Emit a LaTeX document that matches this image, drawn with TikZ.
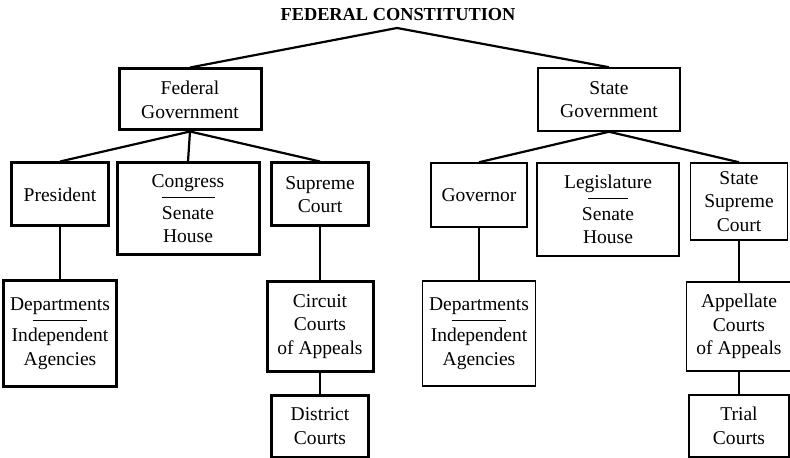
\documentclass[tikz,border=0pt]{standalone}
\usepackage{fontspec}
\setmainfont{Liberation Serif}

% thin rule between two parts of a box
\newcommand{\divline}[1]{\\[-13.5bp]\rule{#1}{0.6bp}\\[-2.5bp]}

\begin{document}
\begin{tikzpicture}
  [x=1bp,y=-1bp,
   box/.style={draw,line width=1.5bp,inner sep=0pt,align=center,
     font=\fontsize{19.6}{23.8}\selectfont},
   fedbox/.style={box,line width=3bp},
   link/.style={line width=2.2bp}]
  \useasboundingbox (0,0) rectangle (790,458);

  \node[font=\bfseries\fontsize{18.4}{20}\selectfont,anchor=base,inner sep=0pt] (title) at (398,20.5) {FEDERAL CONSTITUTION};
  \coordinate (top) at (397,28);

  % federal side
  \node[fedbox,minimum width=142bp,minimum height=61bp] (fed) at (190,99.5) {Federal\\Government};
  \node[fedbox,minimum width=96bp,minimum height=63bp] (pres) at (60,194.5) {President};
  \node[fedbox,minimum width=142bp,minimum height=92bp] (cong) at (188,209) {Congress\divline{53bp}Senate\\House};
  \node[fedbox,minimum width=97bp,minimum height=63bp] (sup) at (320,194.5) {Supreme\\Court};
  \node[fedbox,minimum width=112bp,minimum height=105bp] (fdept) at (60,333.5) {Departments\divline{54bp}Independent\\Agencies};
  \node[fedbox,minimum width=106bp,minimum height=89bp] (circ) at (320,326.5) {Circuit\\Courts\\of Appeals};
  \node[fedbox,minimum width=97bp,minimum height=62bp] (dist) at (320,426) {District\\Courts};

  % state side
  \node[box,minimum width=142bp,minimum height=63bp] (state) at (609,99.5) {State\\Government};
  \node[box,minimum width=96bp,minimum height=64bp] (gov) at (479,195) {Governor};
  \node[box,minimum width=142bp,minimum height=93bp] (leg) at (608,209.5) {Legislature\divline{40bp}Senate\\House};
  \node[box,minimum width=97bp,minimum height=77bp] (ssup) at (739,201.5) {State\\Supreme\\Court};
  \node[box,minimum width=113bp,minimum height=105bp] (sdept) at (479,333.5) {Departments\divline{54bp}Independent\\Agencies};
  \node[box,minimum width=105bp,minimum height=89bp] (appel) at (739,326.5) {Appellate\\Courts\\of Appeals};
  \node[box,minimum width=100bp,minimum height=62bp] (trial) at (739,426) {Trial\\Courts};

  \draw[link] (top) -- (fed.north);
  \draw[link] (top) -- (state.north);
  \draw[link] (fed.south) -- (pres.north);
  \draw[link] (fed.south) -- (cong.north);
  \draw[link] (fed.south) -- (sup.north);
  \draw[link] (pres.south) -- (fdept.north);
  \draw[link] (sup.south) -- (circ.north);
  \draw[link] (circ.south) -- (dist.north);
  \draw[link] (state.south) -- (gov.north);
  \draw[link] (state.south) -- (ssup.north);
  \draw[link] (gov.south) -- (sdept.north);
  \draw[link] (ssup.south) -- (appel.north);
  \draw[link] (appel.south) -- (trial.north);
\end{tikzpicture}
\end{document}
